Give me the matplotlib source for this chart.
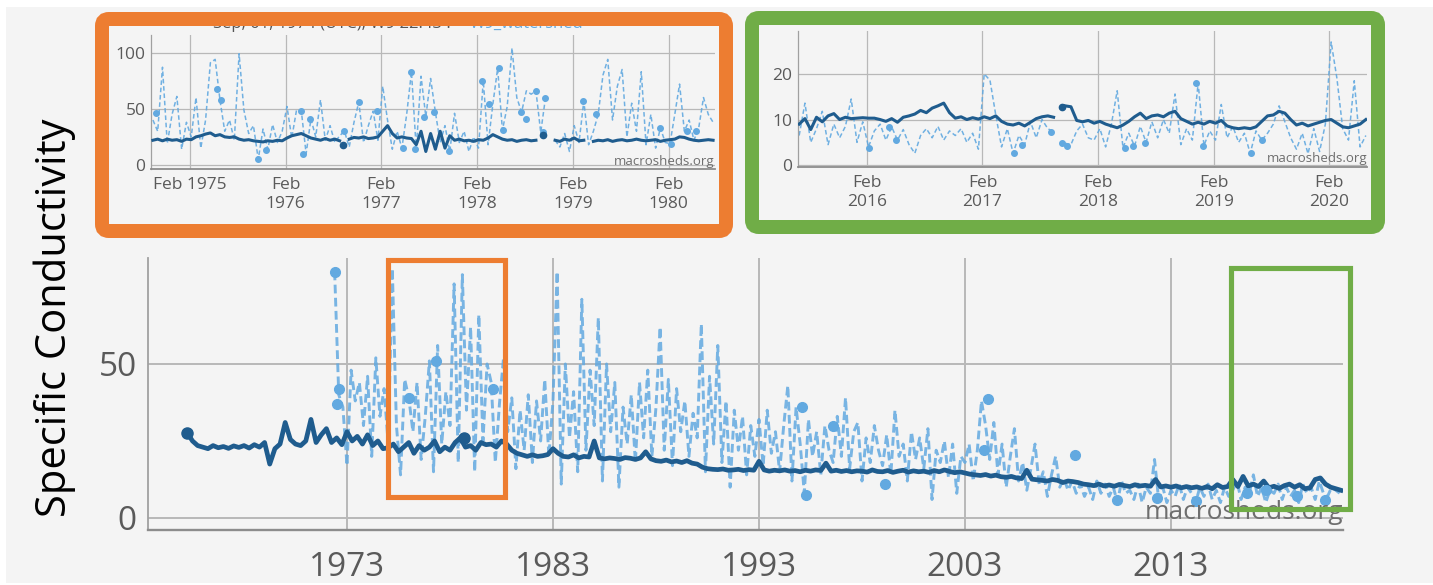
import numpy as np
import matplotlib
matplotlib.use("Agg")
import matplotlib.pyplot as plt
from matplotlib.patches import FancyBboxPatch, Rectangle
from matplotlib.transforms import IdentityTransform

plt.rcParams['font.family'] = ['Open Sans', 'DejaVu Sans']

# ---------------- data ----------------
# full record: weekly-mean line (dark) on a quarter-year grid
main_dark_start, main_dark_step = 1965.25, 0.25
main_dark = [27.6, 25.0, 23.5,
             23.0, 22.5, 23.5, 22.8, 23.2, 22.6, 23.4, 22.9, 23.5, 22.7, 23.8, 23.0,
             24.5, 17.5, 22.5, 24.0, 31.0, 25.5, 24.0, 23.5, 25.0, 32.0, 24.5, 27.0,
             29.0, 24.5, 26.0, 23.8, 28.0, 25.0, 26.5, 24.0, 27.0, 23.5, 25.0, 22.5,
             22.8, 24.0, 21.5, 23.0, 24.5, 21.0, 23.5, 22.0, 23.0, 25.0, 21.5, 23.0,
             22.0, 24.5, 26.0, 23.0, 23.5, 22.0, 24.5, 23.8, 24.0, 23.0, 25.0, 24.0,
             22.0, 21.0, 20.5, 20.0, 20.5, 20.0, 20.2, 20.6, 22.5, 21.0, 20.0, 19.8,
             20.5, 19.5, 20.0, 19.8, 25.0, 19.5, 19.2, 19.5, 19.3, 19.0, 19.6, 19.4,
             19.0, 19.5, 21.5, 19.2, 18.6, 18.4, 18.8, 18.2, 18.5, 18.0, 18.6, 17.8,
             17.5, 16.5, 16.0, 15.8, 15.7, 15.9, 15.5, 15.6, 15.8, 15.4, 15.7, 15.5,
             18.4, 15.6, 15.2, 15.5, 15.3, 15.6, 15.2, 15.4, 15.0, 15.5, 15.2, 15.6,
             15.4, 17.8, 15.2, 15.5, 15.1, 15.4, 15.0, 15.3, 15.2, 14.9, 15.6, 15.1,
             15.0, 15.4, 14.8, 15.2, 15.5, 14.9, 15.3, 15.0, 15.2, 14.8, 15.4, 15.0,
             15.6, 15.1, 14.7, 15.0, 14.6, 14.2, 14.0, 13.8, 14.1, 13.6, 13.9, 13.4,
             13.2, 13.5, 13.0, 12.8, 15.5, 12.6, 12.4, 12.2, 12.0, 12.5, 12.2, 11.5,
             12.0, 11.8, 11.5, 11.0, 10.8, 10.5, 11.0, 10.4, 10.7, 10.3, 10.9, 10.5,
             10.2, 10.8, 10.4, 10.6, 10.3, 12.5, 10.1, 10.4, 10.0, 10.4, 9.8, 10.2,
             9.8, 10.1, 9.6, 10.2, 9.5, 10.8, 9.9, 10.2, 12.5, 10.2, 13.5, 10.4,
             11.0, 10.2, 12.0, 9.8, 10.3, 9.6, 10.5, 11.0, 10.0, 10.8, 9.5, 9.8,
             12.5, 13.0, 11.0, 10.0, 9.5, 9.0]
# full record: grab samples (light, dashed) on a fifth-year grid
main_light_start, main_light_step = 1972.4, 0.2
main_light = [80, 40, 36,
              17, 48, 38, 44, 30, 46, 20, 52, 33, 42, 24, 81, 30, 14, 45,
              39, 28, 44, 19, 33, 51, 15, 56, 24, 41, 30, 76, 18, 79, 35,
              62, 15, 66, 25, 50, 44, 18, 37, 52, 28, 39, 16, 35, 22, 40,
              18, 38, 25, 45, 20, 38, 80, 11, 50, 26, 41, 15, 71, 22, 48,
              30, 65, 12, 50, 28, 44, 10, 36, 24, 40, 18, 44, 26, 48, 20,
              36, 62, 22, 45, 17, 42, 28, 38, 20, 34, 26, 63, 15, 46, 24,
              56, 18, 38, 10, 35, 22, 33, 14, 30, 20, 32, 17, 35, 21, 28,
              15, 30, 43, 12, 36, 24, 8, 32, 20, 28, 14, 30, 22, 18, 33,
              20, 39, 16, 28, 31, 12, 26, 18, 30, 22, 17, 27, 14, 35, 20,
              24, 12, 28, 19, 26, 16, 29, 6, 22, 18, 25, 13, 24, 8, 20,
              18, 24, 12, 22, 38, 30, 19, 31, 14, 24, 10, 20, 29, 12, 18,
              9, 16, 24, 11, 15, 7, 14, 20, 10, 13, 9, 12, 8, 11, 7,
              10, 6, 12, 8, 11, 7, 10, 5, 12, 8, 9, 6, 11, 5, 10,
              8, 19, 6, 10, 5, 9, 7, 11, 6, 10, 8, 5, 10, 7, 11,
              6, 9, 5, 10, 7, 9, 12, 6, 10, 8, 14, 7, 10, 5, 9,
              8, 11, 6, 10, 7, 9, 5, 11, 8, 10, 6, 12, 8, 7, 10,
              9, 8]
main_dot_years = [1972.4, 1972.6, 1972.5, 1976.0, 1977.3, 1980.1, 1995.1, 1995.3, 1996.6,
                  1999.1, 2003.9, 2004.1, 2008.35, 2010.4, 2012.3, 2014.2, 2016.7, 2017.6,
                  2019.1, 2020.5]
main_dot_vals = [80, 42, 37, 39, 51, 42, 36, 7.5, 30, 11, 22, 38.7, 20.5, 6, 6.5, 5.5, 8, 9, 7, 6]
main_dark_dot_years = [1965.25, 1978.7]
main_dark_dot_vals = [27.6, 26]
main_xticks = [1973, 1983, 1993, 2003, 2013]

# zoom 1: Sep 1974 - Jul 1980, 0.05-year grid
z1_start, z1_step = 1974.70, 0.05
z1_dark = [22, 23, 21.5, 23, 22, 22.5, 21, 23, 22.5,
           25, 26, 27.5, 28.5, 26, 27, 25,
           24.5, 25, 23, 22, 22.5,
           21.5, 21, 20.5, 21.5, 21, 22, 21.5,
           24, 26, 27, 28, 26, 24,
           23, 22, 23.5, 22, 23, 21.5,
           np.nan,
           23, 24.5, 24, 25, 23.5, 24, 25,
           30, 35, 28,
           24, 25, 24, 23.5,
           18, 30, 12, 28, 14, 30, 15, 26,
           22, 23, 21.5, 22, 21, 22.5, 22,
           24, 27, 25, 23,
           22, 22.5, 21, 22, 22.5, 21.5, 22,
           np.nan, np.nan, np.nan,
           22, 21, 23, 22, 24, 21.5, 22,
           np.nan,
           21, 22, 21.5, 22.5, 21, 22, 22.5, 21.5, 22, 23, 22, 21.5, 22,
           22.5, 21, 22, 22.5, 23, 25, 24.5, 23, 22, 21.5, 22, 22.5, 22]
z1_light = [40, 30, 87, 19, 45, 61, 14, 38, 25, 60,
            15, 40, 91, 94, 58, 30, 40, 22, 99, 49,
            28, 35, 5, 32, 14, 36, 20, 30, 52, 24,
            49, 48, 10, 41, 25, 58, 22, 35, 20, 26,
            30, 16, 38, 56, 20, 35, 48, 22, 70, 40,
            14, 30, 15, 45, 83, 14, 79, 43, 77, 47,
            20, 35, 12, 46, 20, 30, 12, 25, 15, 75,
            18, 54, 86, 31, 52, 104, 60, 47, 66, 63,
            66, 29, 60, np.nan, 22, 16, 28, 12, 35, 20,
            57, 18, 30, 45, 80, 94, 40, 70, 85, 25,
            55, 30, 83, 18, 45, 15, 33, 20, 19, 45,
            72, 30, 40, 22, 33, 60, 45, 38]
z1_dot_years = [1974.73, 1975.37, 1975.41, 1975.80, 1975.88, 1976.25, 1976.27, 1976.34,
                1976.70, 1976.85, 1977.04, 1977.31, 1977.40, 1977.44, 1977.53, 1977.64,
                1977.79, 1978.14, 1978.21, 1978.31, 1978.36, 1978.54, 1978.60, 1978.70,
                1978.77, 1978.79, 1979.19, 1979.33, 1980.00, 1980.11, 1980.28, 1980.37]
z1_dot_vals = [46, 68, 58, 5, 13.5, 48, 10, 41, 30, 56, 48, 15, 83, 14, 43, 47,
               12, 75, 54, 86, 31, 47, 41, 66, 29, 60, 57, 45, 33, 19, 30, 30]
z1_dark_dot_years = [1976.69, 1978.77]
z1_dark_dot_vals = [18, 27]
z1_years = [1975, 1976, 1977, 1978, 1979, 1980]

# zoom 2: Jun 2015 - May 2020, 0.05-year grid
z2_start, z2_step = 2015.50, 0.05
z2_dark = [9.0, 10.2, 7.8, 10.5, 9.5, 10.8, 11.3, 10.0, 10.5, 10.2,
           10.3, 10.4, 10.3, 10.3, 10.0, 9.6, 10.2, 9.4, 10.5, 10.8,
           11.2, 12.0, 11.5, 12.5, 13.0, 13.6, 11.5, 10.3, 10.6, 10.0,
           10.4, 10.1, 10.6, 10.2, 10.8, 9.6, 9.0, 8.8, 9.2, 8.6,
           9.4, 10.2, 10.6, 10.8, 10.5, np.nan, 13.0, 12.8, 9.8, 9.5,
           9.8, 9.2, 9.6, 9.0, 8.6, 8.2, 8.8, 9.6, 10.6, 11.4,
           10.2, 10.8, 11.0, 10.6, 11.4, 11.8, 10.2, 9.6, 9.0, 9.4,
           9.0, 9.6, 9.2, 9.8, 8.6, 8.2, 8.0, 8.2, 8.0, 8.4,
           9.6, 10.8, 11.0, 11.8, 11.4, 10.0, 8.8, 9.2, 8.6, 9.0,
           9.4, 9.8, 10.0, 9.2, 8.4, 8.2, 8.6, 9.0, 10.0]
z2_light = [6.5, 13.6, 5.0, 8.0, 11.8, 4.5, 9.0, 6.0, 8.5, 14.5,
            5.0, 9.5, 4.0, 7.5, 9.0, 5.5, 8.4, 5.5, 7.8, 4.5,
            2.6, 6.5, 8.0, 6.0, 8.5, 5.5, 7.5, 6.5, 8.0, 5.0,
            7.0, 3.5, 20.0, 18.6, 11.0, 4.0, 8.0, 2.6, 6.5, 4.5,
            9.5, 6.0, 10.0, 8.0, 7.3, np.nan, 4.8, 4.5, 7.5, 9.0,
            6.0, 5.5, 8.0, 4.0, 9.0, 16.3, 3.8, 7.0, 4.2, 8.5,
            5.0, 9.5, 6.0, 10.0, 7.0, 15.6, 4.5, 8.0, 5.5, 18.0,
            4.3, 7.5, 5.5, 13.3, 6.0, 8.5, 5.0, 7.0, 2.6, 7.5,
            5.5, 7.0, 9.0, 13.0, 9.5, 6.0, 3.5, 7.0, 2.5, 8.0,
            3.0, 9.0, 27.0, 19.0, 8.0, 5.5, 18.5, 4.0, 6.5]
z2_dot_years = [2016.10, 2016.28, 2016.34, 2017.36, 2017.43, 2017.68, 2017.77, 2017.82,
                2018.32, 2018.39, 2018.49, 2018.93, 2018.99, 2019.41, 2019.50]
z2_dot_vals = [3.8, 8.4, 5.5, 2.6, 4.5, 7.3, 4.8, 4.3, 3.8, 4.2, 4.8, 18, 4.3, 2.6, 5.5]
z2_dark_dot_years = [2017.77]
z2_dark_dot_vals = [12.8]
z2_years = [2016, 2017, 2018, 2019, 2020]

DARK = '#1f5c8e'
LIGHT = '#62a9e0'
ORANGE = '#ed7d31'
GREEN = '#70ad47'
GRID = '#b8b8b8'
TICK = '#5a5a5a'

W, H = 1433, 585
fig = plt.figure(figsize=(W / 100, H / 100), dpi=100, facecolor='white')


def px_rect(l, t, r, b):
    return [l / W, 1 - b / H, (r - l) / W, (b - t) / H]


# light gray panel behind everything
fig.add_artist(Rectangle((6 / W, 2 / H), (W - 6) / W, 576 / H, transform=fig.transFigure,
                         facecolor='#f4f4f4', edgecolor='none', zorder=-5))


def grid_x(start, step, vals):
    return start + step * np.arange(len(vals))


def style(ax, fs, grid_lw, spine_lw):
    ax.set_facecolor('none')
    ax.spines['top'].set_visible(False)
    ax.spines['right'].set_visible(False)
    ax.spines['left'].set_color('#a0a0a0')
    ax.spines['left'].set_linewidth(spine_lw)
    ax.spines['bottom'].set_color('#8c8c8c')
    ax.spines['bottom'].set_linewidth(spine_lw + 0.4)
    ax.tick_params(length=0, labelsize=fs, labelcolor=TICK)
    ax.grid(True, color=GRID, lw=grid_lw)
    ax.set_axisbelow(True)


# ---------------- main chart ----------------
ax = fig.add_axes(px_rect(148, 258, 1343, 530))
style(ax, 24, 1.4, 1.3)
ax.plot(grid_x(main_light_start, main_light_step, main_light), main_light, color=LIGHT,
        lw=2.1, dashes=(3, 1.5), alpha=0.85, zorder=2)
ax.plot(grid_x(main_dark_start, main_dark_step, main_dark), main_dark, color=DARK,
        lw=3.4, zorder=3)
ax.plot(main_dot_years, main_dot_vals, 'o', color=LIGHT, ms=7, zorder=3)
ax.plot(main_dark_dot_years, main_dark_dot_vals, 'o', color=DARK, ms=8, zorder=3)
ax.set_xlim(1963.34, 2021.35)
ax.set_ylim(-3.9, 84.4)
ax.set_yticks([0, 50])
ax.set_xticks(main_xticks)
ax.set_xticklabels([str(y) for y in main_xticks])
ax.tick_params(axis='x', pad=15)
ax.tick_params(axis='y', pad=8)
ax.text(1.0, 0.066, 'macrosheds.org', transform=ax.transAxes, ha='right', va='center',
        fontsize=19, color='#6e6e6e', zorder=4)
# boxes marking the zoomed ranges
ax.add_patch(Rectangle((1974.97, 6.66), 1980.69 - 1974.97, 83.6 - 6.66, fill=False,
                       ec=ORANGE, lw=3.7, clip_on=False, zorder=6))
ax.add_patch(Rectangle((2015.89, 2.76), 2021.71 - 2015.89, 81.0 - 2.76, fill=False,
                       ec=GREEN, lw=3.7, clip_on=False, zorder=6))

fig.text(55 / W, 1 - 318 / H, 'Specific Conductivity', rotation=90, ha='center',
         va='center', fontsize=30, color='black')

# ---------------- zoom 1 (orange) ----------------
a1 = fig.add_axes(px_rect(151, 35, 715, 169))
style(a1, 12.5, 0.9, 0.9)
a1.plot(grid_x(z1_start, z1_step, z1_light), z1_light, color=LIGHT, lw=1.1,
        dashes=(3, 1.8), alpha=0.9, zorder=2)
a1.plot(grid_x(z1_start, z1_step, z1_dark), z1_dark, color=DARK, lw=2.2, zorder=3)
a1.plot(z1_dot_years, z1_dot_vals, 'o', color=LIGHT, ms=4, zorder=3)
a1.plot(z1_dark_dot_years, z1_dark_dot_vals, 'o', color=DARK, ms=4.5, zorder=3)
a1.set_xlim(1974.68, 1980.57)
a1.set_ylim(-3.6, 115.7)
a1.set_yticks([0, 50, 100])
a1.set_xticks([y + 31 / 365 for y in z1_years])
a1.set_xticklabels(['Feb ' + str(z1_years[0])] + ['Feb\n' + str(y) for y in z1_years[1:]])
a1.tick_params(axis='x', pad=6)
a1.tick_params(axis='y', pad=4)
a1.text(1.0, 0.055, 'macrosheds.org', transform=a1.transAxes, ha='right', va='center',
        fontsize=9.5, color='#6e6e6e', zorder=4)

# hover label of the source chart, cut off by the frame
fig.text(213 / W, 1 - 24 / H, 'Sep, 01, 1974 (UTC), W9 22.43 :', ha='left', va='center',
         fontsize=12, color='#555555', zorder=1)
fig.text(470 / W, 1 - 24 / H, 'W9_watershed', ha='left', va='center',
         fontsize=12, color=LIGHT, zorder=1)

# ---------------- zoom 2 (green) ----------------
a2 = fig.add_axes(px_rect(798, 31, 1367, 167))
style(a2, 12.5, 0.9, 0.9)
a2.plot(grid_x(z2_start, z2_step, z2_light), z2_light, color=LIGHT, lw=1.1,
        dashes=(3, 1.8), alpha=0.9, zorder=2)
a2.plot(grid_x(z2_start, z2_step, z2_dark), z2_dark, color=DARK, lw=2.2, zorder=3)
a2.plot(z2_dot_years, z2_dot_vals, 'o', color=LIGHT, ms=4, zorder=3)
a2.plot(z2_dark_dot_years, z2_dark_dot_vals, 'o', color=DARK, ms=4.5, zorder=3)
a2.set_xlim(2015.49, 2020.41)
a2.set_ylim(-0.4, 29.4)
a2.set_yticks([0, 10, 20])
a2.set_xticks([y + 31 / 365 for y in z2_years])
a2.set_xticklabels(['Feb\n' + str(y) for y in z2_years])
a2.tick_params(axis='x', pad=6)
a2.tick_params(axis='y', pad=4)
a2.text(1.0, 0.064, 'macrosheds.org', transform=a2.transAxes, ha='right', va='center',
        fontsize=9.5, color='#6e6e6e', zorder=4)

# rounded frames round the two zoom panels (display pixels)
for (x0, top, x1, bot), col in [((102, 19, 726, 231), ORANGE), ((752, 18, 1378, 227), GREEN)]:
    fig.add_artist(FancyBboxPatch((x0, H - bot), x1 - x0, bot - top,
                                  boxstyle='round,pad=0,rounding_size=7',
                                  transform=IdentityTransform(), fill=False,
                                  ec=col, lw=14 * 0.72, zorder=5))

fig.savefig('out.png', dpi=100, facecolor=fig.get_facecolor())
